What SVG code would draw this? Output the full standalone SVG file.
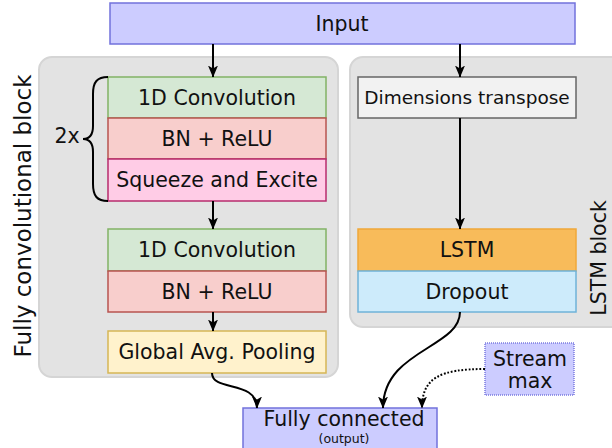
<svg xmlns="http://www.w3.org/2000/svg" width="612" height="448" viewBox="0 0 612 448">
  <defs>
    <marker id="arrow" viewBox="0 0 12 10" refX="11.5" refY="5" markerWidth="12" markerHeight="10" markerUnits="userSpaceOnUse" orient="auto">
      <path d="M0,0 L12,5 L0,10 L3,5 z" fill="#000"/>
    </marker>
  </defs>
  <style>
    text { font-family: "DejaVu Sans", Verdana, sans-serif; font-size: 20.5px; fill: #111; text-anchor: middle; }
    .block { fill: #e3e3e3; stroke: #d5d5d5; stroke-width: 2; }
    .io { fill: #ccccff; stroke: #7272dc; stroke-width: 1.5; }
    .conv { fill: #d5e8d4; stroke: #82b366; stroke-width: 1.5; }
    .bn { fill: #f8cecc; stroke: #b85450; stroke-width: 1.5; }
    .se { fill: #ffcce6; stroke: #b82c6e; stroke-width: 1.5; }
    .gap { fill: #fff2cc; stroke: #d6b656; stroke-width: 1.5; }
    .dt { fill: #f2f2f2; stroke: #666666; stroke-width: 1.5; }
    .lstm { fill: #f8bb5a; stroke: #f0a83a; stroke-width: 1.5; }
    .drop { fill: #cdebfb; stroke: #6fb3d9; stroke-width: 1.5; }
    .stream { fill: #ccccff; stroke: #7a7ae0; stroke-width: 1.5; stroke-dasharray: 1 1; }
    .edge { fill: none; stroke: #000; stroke-width: 2; marker-end: url(#arrow); }
    .dotted { stroke-dasharray: 1.8 1.8; }
  </style>

  <!-- grouping blocks -->
  <g id="conv-block">
    <rect class="block" x="39" y="57" width="299" height="320" rx="13"/>
    <text transform="translate(31,216) rotate(-90)" style="font-size:23px">Fully convolutional block</text>
  </g>
  <g id="lstm-block">
    <rect class="block" x="350" y="57" width="280" height="270" rx="13"/>
    <text transform="translate(606,258) rotate(-90)">LSTM block</text>
  </g>

  <g id="input">
    <rect class="io" x="110" y="3" width="465" height="41"/>
    <text x="342" y="31">Input</text>
  </g>

  <!-- repeated conv unit -->
  <g id="conv1">
    <rect class="conv" x="108" y="77" width="218" height="41"/>
    <text x="217" y="105">1D Convolution</text>
  </g>
  <g id="bn1">
    <rect class="bn" x="108" y="118" width="218" height="41"/>
    <text x="217" y="146">BN + ReLU</text>
  </g>
  <g id="se">
    <rect class="se" x="108" y="159" width="218" height="42"/>
    <text x="217" y="187">Squeeze and Excite</text>
  </g>
  <g id="repeat">
    <path d="M108,77 C97,77 93,82 93,94 L93,126 C93,135 89,139 83,139 C89,139 93,143 93,152 L93,184 C93,196 97,201 108,201" fill="none" stroke="#000" stroke-width="2"/>
    <text x="67" y="143">2x</text>
  </g>

  <g id="conv2">
    <rect class="conv" x="108" y="229" width="218" height="42"/>
    <text x="217" y="257">1D Convolution</text>
  </g>
  <g id="bn2">
    <rect class="bn" x="108" y="271" width="218" height="41"/>
    <text x="217" y="299">BN + ReLU</text>
  </g>
  <g id="pool">
    <rect class="gap" x="108" y="331" width="218" height="42"/>
    <text x="217" y="359">Global Avg. Pooling</text>
  </g>

  <g id="transpose">
    <rect class="dt" x="358" y="77" width="218" height="41"/>
    <text x="467" y="104" style="font-size:18.5px">Dimensions transpose</text>
  </g>
  <g id="lstm">
    <rect class="lstm" x="358" y="229" width="218" height="42"/>
    <text x="467" y="257">LSTM</text>
  </g>
  <g id="dropout">
    <rect class="drop" x="358" y="271" width="218" height="41"/>
    <text x="467" y="299">Dropout</text>
  </g>

  <g id="stream-max">
    <rect class="stream" x="485" y="343" width="89" height="52"/>
    <text x="530" y="366">Stream</text>
    <text x="530" y="388">max</text>
  </g>

  <g id="fully-connected">
    <rect class="io" x="243" y="408" width="194" height="50"/>
    <text x="344" y="426">Fully connected</text>
    <text x="344" y="443" style="font-size:12.5px">(output)</text>
  </g>

  <g id="connectors">
    <path class="edge" d="M213,44 L213,77"/>
    <path class="edge" d="M460,44 L460,77"/>
    <path class="edge" d="M460,118 L460,229"/>
    <path class="edge" d="M213,201 L213,229"/>
    <path class="edge" d="M213,312 L213,331"/>
    <path class="edge" d="M212,373 C212,392 257,380 257,408"/>
    <path class="edge" d="M460,312 C460,348 383,350 383,408"/>
    <path class="edge dotted" d="M485,369 C440,369 422,378 422,408"/>
  </g>
</svg>
